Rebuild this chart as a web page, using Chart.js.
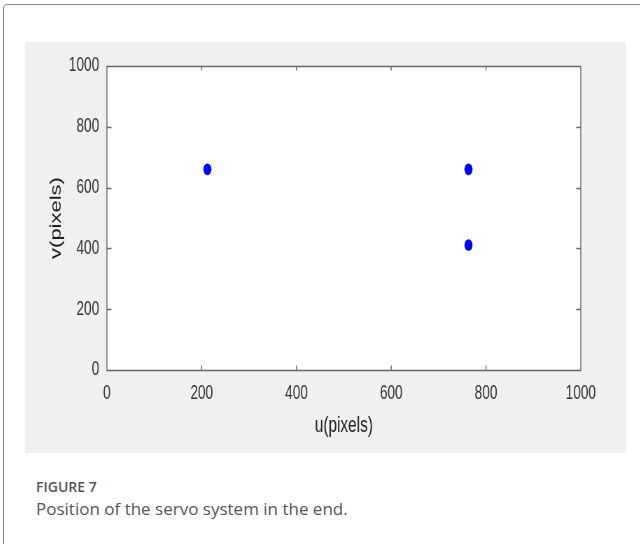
<!DOCTYPE html>
<html>
<head>
<meta charset="utf-8">
<script src="https://cdn.jsdelivr.net/npm/chart.js@4"></script>
<style>
  body { margin: 0; width: 640px; height: 544px; background: #fff; overflow: hidden; position: relative; }
  #frame { position: absolute; left: 3px; top: 4px; width: 700px; height: 600px; border: 1.5px solid #8a8a8a; border-radius: 4px; }
  #panel { position: absolute; left: 25px; top: 42px; width: 601px; height: 411px; background: #f0f0f0; overflow: hidden; }
  /* the source figure is squeezed sideways, so the chart is drawn wide and scaled down in x */
  #panel canvas { position: absolute; left: 0; top: 0; transform: scaleX(0.7); transform-origin: 0 0; }
  .cap { position: absolute; left: 36px; font-family: "Open Sans", sans-serif; color: #555; }
  #figno { top: 477px; font-size: 14px; font-weight: 600; }
  #figtxt { top: 497px; font-size: 17px; }
</style>
</head>
<body>
<div id="frame"></div>
<div id="panel"><canvas id="posChart" width="859" height="411"></canvas></div>
<div class="cap" id="figno">FIGURE 7</div>
<div class="cap" id="figtxt">Position of the servo system in the end.</div>
<script>
// end positions of the servo system (image coordinates)
const uValues = [212, 763, 763];
const vValues = [660, 660, 411];
const tickValues = [0, 200, 400, 600, 800, 1000];

const axisFont = '"Liberation Sans", Arial, sans-serif';

// white plot area, dark box and inward tick marks on all four sides
const boxPlugin = {
    id: 'box',
    beforeDatasetsDraw(chart) {
        const a = chart.chartArea;
        const ctx = chart.ctx;
        ctx.save();
        ctx.fillStyle = '#ffffff';
        ctx.fillRect(a.left, a.top, a.right - a.left, a.bottom - a.top);
        ctx.restore();
    },
    afterDraw(chart) {
        const a = chart.chartArea;
        const ctx = chart.ctx;
        const xs = chart.scales.x;
        const ys = chart.scales.y;
        ctx.save();
        ctx.strokeStyle = '#666';
        ctx.beginPath();
        ctx.rect(a.left, a.top + 0.5, a.right - a.left, a.bottom - a.top);
        tickValues.slice(1, -1).forEach(function (t) {
            let px = xs.getPixelForValue(t);
            ctx.moveTo(px, a.bottom);
            ctx.lineTo(px, a.bottom - 4.5);
            ctx.moveTo(px, a.top);
            ctx.lineTo(px, a.top + 4.5);
            let py = Math.round(ys.getPixelForValue(t)) + 0.5;
            ctx.moveTo(a.left, py);
            ctx.lineTo(a.left + 6.5, py);
            ctx.moveTo(a.right, py);
            ctx.lineTo(a.right - 6.5, py);
        });
        ctx.lineWidth = 1.4;
        ctx.stroke();
        ctx.restore();
    }
};

function plainLabel(value) {
    return String(value);
}

function initChart() {
    let points = uValues.map(function (u, i) {
        return { x: u, y: vValues[i] };
    });
    let ctx = document.getElementById('posChart').getContext('2d');
    new Chart(ctx, {
        type: 'scatter',
        data: {
            datasets: [{
                data: points,
                pointStyle: 'circle',
                pointRadius: 5.8,
                backgroundColor: '#0000ff',
                borderWidth: 0
            }]
        },
        options: {
            responsive: false,
            animation: false,
            layout: { padding: { top: 24, right: 65, left: 0, bottom: 0 } },
            plugins: { legend: { display: false }, tooltip: { enabled: false } },
            scales: {
                x: {
                    type: 'linear',
                    min: 0,
                    max: 1000,
                    afterBuildTicks(scale) {
                        scale.ticks = tickValues.map(function (v) { return { value: v }; });
                    },
                    afterFit(scale) { scale.height = 83; },
                    grid: { display: false, drawTicks: false },
                    border: { display: false },
                    ticks: { color: '#333', padding: 12, maxRotation: 0, callback: plainLabel, font: { family: axisFont, size: 19.5 } },
                    title: {
                        display: true,
                        text: 'u(pixels)',
                        color: '#222',
                        padding: { top: 0, bottom: 14 },
                        font: { family: axisFont, size: 22 }
                    }
                },
                y: {
                    type: 'linear',
                    min: 0,
                    max: 1000,
                    afterBuildTicks(scale) {
                        scale.ticks = tickValues.map(function (v) { return { value: v }; });
                    },
                    afterFit(scale) { scale.width = 117; },
                    grid: { display: false, drawTicks: false },
                    border: { display: false },
                    ticks: { color: '#333', padding: 11, callback: plainLabel, font: { family: axisFont, size: 19.5 } },
                    title: {
                        display: true,
                        text: 'v(pixels)',
                        color: '#1a1a1a',
                        padding: { top: 32, bottom: 0 },
                        font: { family: axisFont, size: 22 }
                    }
                }
            }
        },
        plugins: [boxPlugin]
    });
}

window.onload = initChart;
</script>
</body>
</html>
